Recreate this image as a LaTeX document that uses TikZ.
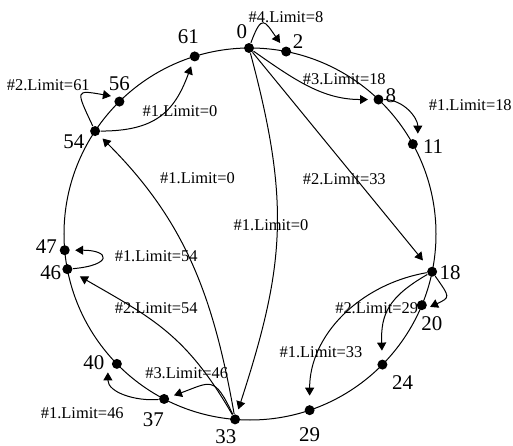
\documentclass[tikz,border=0pt]{standalone}
\usepackage{fontspec}
\setmainfont{Liberation Serif}
\usetikzlibrary{arrows.meta}

\tikzset{
  dot/.style={circle, fill=black, inner sep=0pt, minimum size=10bp},
  num/.style={inner sep=0pt, font=\fontsize{21}{21}\selectfont},
  lim/.style={inner sep=0pt, font=\fontsize{16.5}{16.5}\selectfont},
  hop/.style={->, shorten >=5bp}
}

\begin{document}
\begin{tikzpicture}[x=1bp, y=1bp, line width=1bp, >={Triangle[length=8bp,width=9bp]}]

  % Frame
  \useasboundingbox (-250,-212) rectangle (263,234);

  % Ring
  \draw (0,0) circle (186);

  % Peers on the ring, with their ids
  \foreach \n/\a/\la/\ld in {0/90.3/114/17.5, 2/78.8/39/15.4, 8/46.3/18/13,
      11/28.9/-7/20.4, 18/-11.7/-3/18, 20/-22.5/-61/20.6, 24/-44.6/-41/26.7,
      29/-71.3/-90/24.3, 33/-94.6/-118/19.6, 37/-117.5/-117/23.6,
      40/-135.7/177/23, 46/-169.1/-168/17, 47/-175/170/18.6,
      54/146.4/-153/23.8, 56/134.6/90/17.7, 61/107.3/108/20.4}{
    \node[dot] (n\n) at (\a:186) {};
    \node[num] (l\n) at ([shift={(\la:\ld)}]n\n) {\n};
  }

  % Fingers out of 0
  \draw[hop] (n0) to[out=70, in=125, looseness=2.5] (n2);
  \draw[hop] (n0) to[out=-35, in=180] (n8);
  \draw[hop, shorten >=9bp] (n0) -- (n18);
  \draw[hop] (n0) to[out=-75, in=72, looseness=1.1] (n33);
  \draw[hop] (n8) to[out=0, in=90] ([xshift=5bp]n11.north);

  % Fingers out of 18
  \draw[hop, shorten >=3bp] (n18) to[out=-55, in=25, looseness=2] ([yshift=-3bp]n20.east);
  \draw[hop, shorten >=8.5bp] (n18) to[out=210, in=92, looseness=1.2] (n24);
  \draw[hop, shorten >=9bp] (n18) to[out=190, in=90] (n29);

  % Fingers out of 33
  \draw[hop] (n33) to[out=100, in=-45] (n54);
  \draw[hop, shorten >=9bp] (n33) to[out=120, in=-30, looseness=1.1] (n46);
  \draw[hop] (n33) to[out=115, in=20, looseness=1.7] (n37);
  \draw[hop, shorten >=3bp] (n37) to[out=185, in=-90] ([xshift=-9bp]n40.south);
  \draw[hop] (n46) to[out=5, in=0, looseness=5.5] (n47);

  % Fingers out of 54
  \draw[hop, shorten >=3bp] (n54) to[out=115, in=170, looseness=2.8] ([yshift=5bp]n56.west);
  \draw[hop] (n54) to[out=0, in=-110, looseness=1.2] (n61);

  % Limits
  \node[lim] (t1) at (36,217.3) {\#4.Limit=8};
  \node[lim] (t2) at (94.3,155) {\#3.Limit=18};
  \node[lim] (t3) at (220.3,129) {\#1.Limit=18};
  \node[lim] (t4) at (94.3,55) {\#2.Limit=33};
  \node[lim] (t5) at (21,9) {\#1.Limit=0};
  \node[lim] (t6) at (-52.5,55.7) {\#1.Limit=0};
  \node[lim] (t7) at (-70,123.3) {\#1.Limit=0};
  \node[lim] (t8) at (-201.7,149) {\#2.Limit=61};
  \node[lim] (t9) at (-93.8,-22) {\#1.Limit=54};
  \node[lim] (t10) at (-93.8,-74.3) {\#2.Limit=54};
  \node[lim] (t11) at (-63.3,-138.7) {\#3.Limit=46};
  \node[lim] (t12) at (-167.7,-179.3) {\#1.Limit=46};
  \node[lim] (t13) at (126.7,-74.3) {\#2.Limit=29};
  \node[lim] (t14) at (71,-117.7) {\#1.Limit=33};

\end{tikzpicture}
\end{document}
